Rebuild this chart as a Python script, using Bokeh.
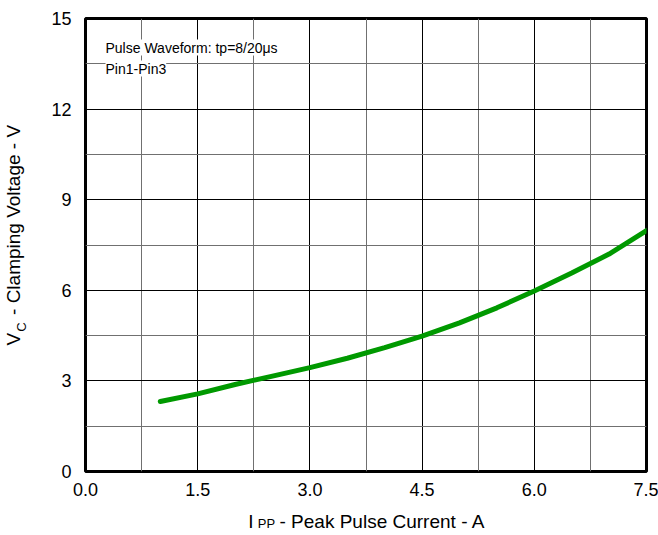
import numpy as np
from bokeh.plotting import figure
from bokeh.models import FixedTicker, Label, Range1d, LinearAxis
from bokeh.embed import file_html
from bokeh.resources import INLINE

# Data
ipp = [1.0, 1.5, 2.0, 2.5, 3.0, 3.5, 4.0, 4.5, 5.0, 5.5, 6.0, 6.5, 7.0, 7.5]
vc = [2.32, 2.57, 2.88, 3.16, 3.44, 3.75, 4.10, 4.48, 4.92, 5.42, 5.98, 6.57, 7.20, 7.98]

x_ticks = [0.0, 1.5, 3.0, 4.5, 6.0, 7.5]
x_tick_labels = ["0.0", "1.5", "3.0", "4.5", "6.0", "7.5"]
y_ticks = [0, 3, 6, 9, 12, 15]
y_tick_labels = ["0", "3", "6", "9", "12", "15"]
x_minor = [0.75, 2.25, 3.75, 5.25, 6.75]
y_minor = [1.5, 4.5, 7.5, 10.5, 13.5]

FONT = "Liberation Sans"
W, H = 658, 535
FL, FR, FT, FB = 84, 12, 18, 64

p = figure(width=W, height=H, output_backend="svg", toolbar_location=None,
           x_range=Range1d(0, 7.5), y_range=Range1d(0, 15),
           min_border_left=FL, min_border_right=FR, min_border_top=FT,
           min_border_bottom=FB)

p.outline_line_color = "black"
p.outline_line_width = 3
p.background_fill_color = "white"

p.xaxis.ticker = FixedTicker(ticks=x_ticks, minor_ticks=x_minor)
p.yaxis.ticker = FixedTicker(ticks=y_ticks, minor_ticks=y_minor)
p.xaxis.major_label_overrides = {t: s for t, s in zip(x_ticks, x_tick_labels)}
p.yaxis.major_label_overrides = {t: s for t, s in zip(y_ticks, y_tick_labels)}


def style_axis(ax, size, standoff):
    ax.axis_line_color = None
    ax.major_tick_line_color = None
    ax.minor_tick_line_color = None
    ax.major_tick_out = 0
    ax.minor_tick_out = 0
    ax.major_tick_in = 0
    ax.minor_tick_in = 0
    ax.major_label_text_font = FONT
    ax.major_label_text_font_size = size
    ax.major_label_text_color = "black"
    ax.major_label_standoff = standoff


style_axis(p.xaxis[0], "18px", 11)
style_axis(p.yaxis[0], "18px", 14)

for g in (p.xgrid, p.ygrid):
    g.grid_line_color = "black"
    g.grid_line_width = 1
    g.minor_grid_line_color = "#707070"
    g.minor_grid_line_width = 1

p.line(ipp, vc, line_color="#009900", line_width=5, line_cap="round")

# annotation inside the plot
def sx(px):
    return px - FL
def sy(py):
    return (H - FB) - py

for txt, base in [("Pulse Waveform: tp=8/20\u03bcs", 47), ("Pin1-Pin3", 68)]:
    p.add_layout(Label(x=sx(104), y=sy(base), x_units="screen", y_units="screen",
                       text=txt, text_font=FONT, text_font_size="14px",
                       text_color="black", text_baseline="alphabetic",
                       text_align="left", background_fill_color="white"))

# axis titles with subscripts, drawn as labels of extra axes
# x title: "I" + sub "PP" + "- Peak Pulse Current - A"
x_sub_pos = {2.42: "PP"}
x_main_pos = {2.21: "I", 3.97: "- Peak Pulse Current - A"}
ax_sub = LinearAxis(ticker=FixedTicker(ticks=list(x_sub_pos), minor_ticks=[]),
                    major_label_overrides=x_sub_pos)
style_axis(ax_sub, "13px", 17)
p.add_layout(ax_sub, "below")
ax_main = LinearAxis(ticker=FixedTicker(ticks=list(x_main_pos), minor_ticks=[]),
                     major_label_overrides=x_main_pos)
style_axis(ax_main, "19px", -23)
p.add_layout(ax_main, "below")

# y title: "V" + sub "C" + "- Clamping Voltage - V"
y_sub_pos = {4.78: "C"}
y_main_pos = {4.38: "V", 8.33: "- Clamping Voltage - V"}
ay_sub = LinearAxis(ticker=FixedTicker(ticks=list(y_sub_pos), minor_ticks=[]),
                    major_label_overrides=y_sub_pos,
                    major_label_orientation="vertical")
style_axis(ay_sub, "13px", 19)
p.add_layout(ay_sub, "left")
ay_main = LinearAxis(ticker=FixedTicker(ticks=list(y_main_pos), minor_ticks=[]),
                     major_label_overrides=y_main_pos,
                     major_label_orientation="vertical")
style_axis(ay_main, "19px", -13)
p.add_layout(ay_main, "left")

open("out.html", "w").write(file_html(p, INLINE))
